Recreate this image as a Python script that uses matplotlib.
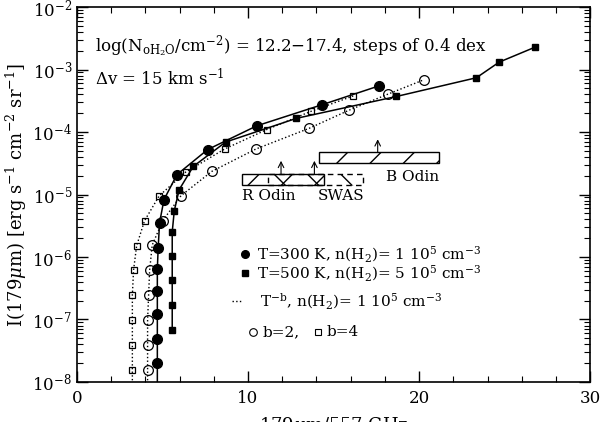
#!/usr/bin/env python3

import numpy as np
import matplotlib
matplotlib.use("Agg")
import matplotlib.pyplot as plt
from matplotlib.patches import Rectangle

plt.rcParams["font.family"] = ["DejaVu Serif"]
plt.rcParams["mathtext.fontset"] = "dejavuserif"

# T=300 K, n(H2)=1e5 (filled circles, solid)
t300_x = [4.70, 4.70, 4.70, 4.70, 4.70, 4.70, 4.75, 4.83, 5.09, 5.85,
          7.64, 10.51, 14.35, 17.66]
t300_logI = [-8.09, -7.70, -7.31, -6.92, -6.54, -6.19, -5.85, -5.45, -5.08,
             -4.68, -4.28, -3.90, -3.56, -3.26]

# T=500 K, n(H2)=5e5 (filled squares, solid)
t500_x = [5.57, 5.57, 5.57, 5.57, 5.57, 5.69, 5.98, 6.80, 8.69, 12.83,
          18.67, 23.35, 24.68, 26.78]
t500_logI = [-7.17, -6.77, -6.37, -5.99, -5.60, -5.26, -4.92, -4.55, -4.16,
             -3.78, -3.43, -3.13, -2.88, -2.64]

# T^-b, b=2 (open circles, dotted)
b2_x = [4.13, 4.13, 4.13, 4.13, 4.19, 4.25, 4.40, 5.01, 6.08, 7.88, 10.47,
        13.57, 15.90, 18.20, 20.30]
b2_logI = [-8.21, -7.81, -7.41, -7.01, -6.61, -6.21, -5.81, -5.42, -5.02,
           -4.63, -4.27, -3.94, -3.65, -3.39, -3.16]

# T^-b, b=4 (open squares, dotted)
b4_x = [3.24, 3.24, 3.24, 3.24, 3.24, 3.31, 3.49, 3.95, 4.81, 6.36, 8.64,
        11.09, 13.66, 16.16]
b4_logI = [-8.21, -7.81, -7.41, -7.01, -6.61, -6.21, -5.82, -5.42, -5.02,
           -4.64, -4.27, -3.96, -3.67, -3.42]

# observed ranges: B Odin, R Odin, SWAS
obs_x0 = [14.15, 9.63, 11.19]
obs_x1 = [21.15, 14.46, 16.74]
obs_lo = [-4.49, -4.84, -4.84]
obs_hi = [-4.325, -4.67, -4.67]
obs_arrow_x = [17.58, 11.93, 13.88]


def main() -> None:
    fig = plt.figure(figsize=(6.01, 4.22), dpi=100)
    ax = fig.add_axes([0.128, 0.095, 0.854, 0.888])
    ax.set_yscale("log")
    ax.set_xlim(0, 30)
    ax.set_ylim(1e-8, 1e-2)

    ax.plot(t300_x, 10 ** np.array(t300_logI), "-", color="black", lw=1.1,
            marker="o", ms=7, mfc="black")
    ax.plot(t500_x, 10 ** np.array(t500_logI), "-", color="black", lw=1.1,
            marker="s", ms=5, mfc="black")
    ax.plot(b2_x, 10 ** np.array(b2_logI), ":", color="black", lw=1.0,
            marker="o", ms=7, mfc="none", mew=0.9)
    ax.plot(b4_x, 10 ** np.array(b4_logI), ":", color="black", lw=1.0,
            marker="s", ms=5, mfc="none", mew=0.9)

    # observation boxes
    hatches = ["/", "/", "\\"]
    styles = ["-", "-", (0, (4, 3))]
    for i in range(3):
        lo, hi = 10 ** obs_lo[i], 10 ** obs_hi[i]
        ax.add_patch(Rectangle((obs_x0[i], lo), obs_x1[i] - obs_x0[i], hi - lo,
                               fill=False, hatch=hatches[i], lw=1.0,
                               linestyle=styles[i], edgecolor="black"))
        top = 10 ** (obs_hi[i] + 0.21)
        ax.annotate("", xy=(obs_arrow_x[i], top), xytext=(obs_arrow_x[i], hi),
                    arrowprops=dict(arrowstyle="->", lw=0.8, color="black",
                                    shrinkA=0, shrinkB=0))
    ax.text(18.05, 10 ** -4.72, "B Odin", fontsize=11, va="center")
    ax.text(9.63, 10 ** -5.02, "R Odin", fontsize=11, va="center")
    ax.text(14.08, 10 ** -5.02, "SWAS", fontsize=11, va="center")

    ax.text(1.05, 10 ** -2.635,
            r"log(N$_{\rm oH_2O}$/cm$^{-2}$) = 12.2$-$17.4, steps of 0.4 dex",
            fontsize=12, va="center")
    ax.text(1.05, 10 ** -3.136, r"$\Delta$v = 15 km s$^{-1}$", fontsize=12,
            va="center")

    # legend block
    tr = ax.transAxes
    fs = 11
    ax.plot([0.327], [0.340], "o", color="black", ms=5.5, transform=tr)
    ax.plot([0.327], [0.290], "s", color="black", ms=4, transform=tr)
    ax.text(0.351, 0.340, r"T=300 K, n(H$_2$)= 1 10$^5$ cm$^{-3}$",
            fontsize=fs, va="center", transform=tr)
    ax.text(0.351, 0.290, r"T=500 K, n(H$_2$)= 5 10$^5$ cm$^{-3}$",
            fontsize=fs, va="center", transform=tr)
    ax.plot([0.302, 0.324], [0.216, 0.216], ":", color="black", lw=1.0,
            transform=tr)
    ax.text(0.357, 0.216, r"T$^{-\rm b}$, n(H$_2$)= 1 10$^5$ cm$^{-3}$",
            fontsize=fs, va="center", transform=tr)
    ax.plot([0.343], [0.133], "o", color="black", ms=5.5, mfc="none",
            mew=0.8, transform=tr)
    ax.text(0.362, 0.133, "b=2,", fontsize=fs, va="center", transform=tr)
    ax.plot([0.470], [0.133], "s", color="black", ms=4, mfc="none",
            mew=0.8, transform=tr)
    ax.text(0.486, 0.133, "b=4", fontsize=fs, va="center", transform=tr)

    ax.set_xticks([0, 10, 20, 30])
    ax.set_xticks(np.arange(0, 31, 2), minor=True)
    ax.tick_params(which="both", direction="in", top=True, right=True,
                   labelsize=12)
    ax.tick_params(which="major", length=8, width=1.0)
    ax.tick_params(which="minor", length=4, width=0.8)
    ax.tick_params(axis="x", pad=6)
    for s in ax.spines.values():
        s.set_linewidth(1.2)

    ax.set_ylabel(r"I(179$\mu$m) [erg s$^{-1}$ cm$^{-2}$ sr$^{-1}$]",
                  fontsize=13, labelpad=2)
    fig.text(0.555, 0.017, r"179$\mu$m/557 GHz", fontsize=13, ha="center",
             va="top")

    fig.savefig("out.png", dpi=100)


main()
